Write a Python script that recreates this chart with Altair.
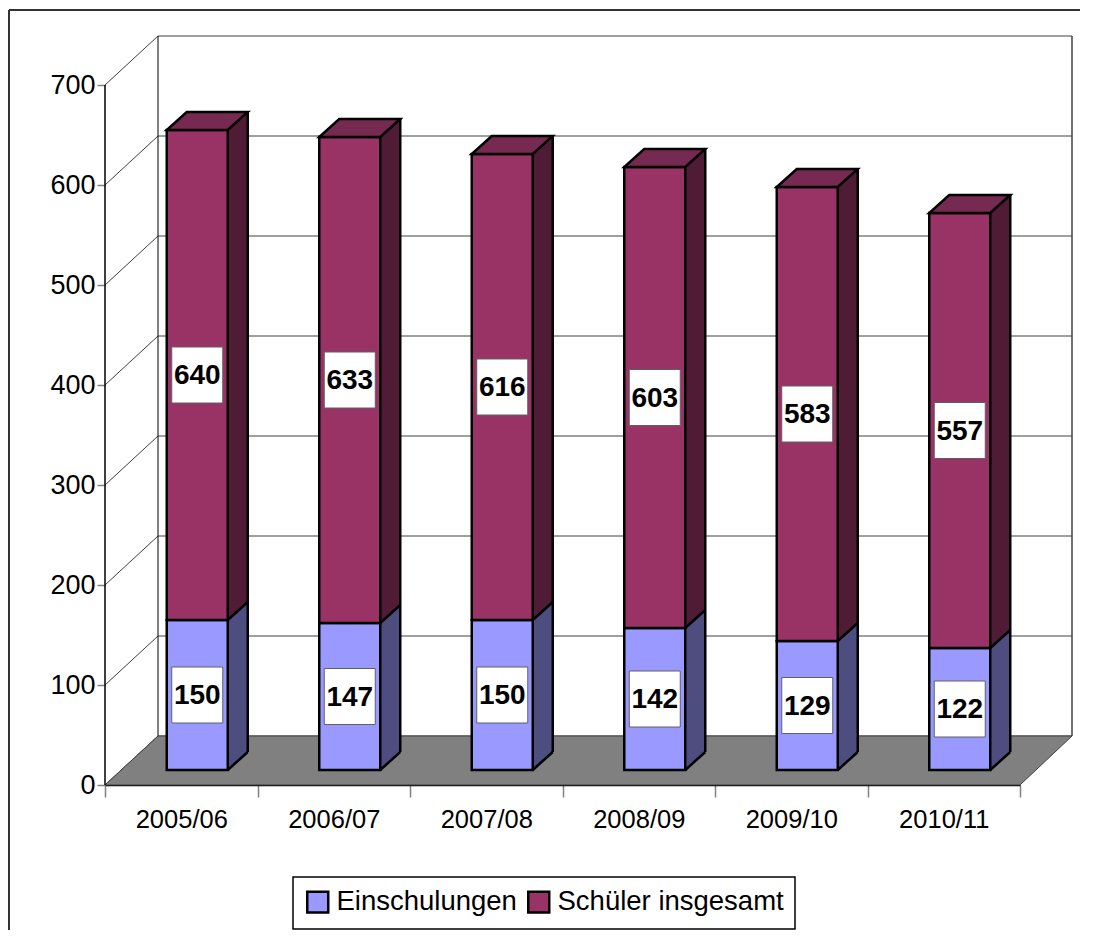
import altair as alt
import pandas as pd

# ---- data ----
years = ["2005/06", "2006/07", "2007/08", "2008/09", "2009/10", "2010/11"]
einschulungen = [150, 147, 150, 142, 129, 122]
schueler_insgesamt = [640, 633, 616, 603, 583, 557]
y_ticks = [0, 100, 200, 300, 400, 500, 600, 700]
series = ["Einschulungen", "Schüler insgesamt"]

df = pd.DataFrame({"year": years, "ein": einschulungen, "tot": schueler_insgesamt})
df["zero"] = 0
df["mid_ein"] = df["ein"] / 2
df["mid_tot"] = (df["ein"] + df["tot"]) / 2
ticks = pd.DataFrame({"v": y_ticks})
one = pd.DataFrame({"a": [0]})

FONT = "Liberation Sans, Arial"

# colours
BLUE = "#9999FF"
BLUE_SIDE = "#4D4D80"
PURPLE = "#993366"
PURPLE_SIDE = "#4F1B35"
PURPLE_TOP = "#762A52"
FLOOR = "#808080"

# 3-D look (pixel styling)
W, H = 915, 750
BAR_W = 61
FX, FY = 16, -15          # front face offset
SX, SY = 36, -33          # back face offset
WALL_X, WALL_Y, WALL_R = 53, -49, 967

FLOOR_PATH = "M -1 0.05067 L 0.89245 0.05067 L 1 -0.05067 L -0.89038 -0.05067 Z"
TRI_PATH = "M -1.05 -1.05 L 1 -1.05 L 1 -0.9 L -1.05 0.945 Z"
DIAG_PATH = "M -1 0.9 L 1 -0.9"
TOP_PATH = "M -1 0.2222 L 0.5062 0.2222 L 1 -0.2222 L -0.5062 -0.2222 Z"
BOX_PATH = "M -0.9107 -1 L 0.9107 -1 L 0.9107 1 L -0.9107 1 Z"

y_scale = alt.Scale(domain=[0, 750], nice=False, zero=True)
x_scale = alt.Scale(paddingInner=0, paddingOuter=0)
x_axis = alt.Axis(title=None, labelAngle=0, labelFont=FONT, labelFontSize=25.5, labelColor="black",
                  domainColor="black", domainWidth=1.5, tickColor="#808080", tickWidth=1.5,
                  tickSize=12, tickBand="extent", labelPadding=10)
y_axis = alt.Axis(title=None, values=y_ticks, labelFont=FONT, labelFontSize=27, labelColor="black",
                  domain=False, grid=False, tickColor="#808080", tickWidth=1.5, tickSize=8,
                  labelPadding=2)

X = alt.X("year:N", sort=years, scale=x_scale, axis=x_axis)


def Y(f):
    return alt.Y(f, type="quantitative", scale=y_scale, axis=y_axis)


def YD(v):
    return alt.YDatum(v, type="quantitative", scale=y_scale, axis=y_axis)


# ---- background: frame, wall, floor ----
grid = alt.Chart(ticks).mark_rule(color="#404040", strokeWidth=1, yOffset=WALL_Y).encode(
    x=alt.value(WALL_X), x2=alt.value(WALL_R), y=Y("v"))
side_diag = alt.Chart(ticks).mark_rule(color="#404040", strokeWidth=1, y2Offset=WALL_Y).encode(
    x=alt.value(0), x2=alt.value(WALL_X), y=Y("v"), y2=alt.Y2("v"))
frame_top = alt.Chart(one).mark_rule(color="#333333", strokeWidth=2).encode(
    x=alt.value(-96), x2=alt.value(1000), y=alt.value(-25))
frame_left = alt.Chart(one).mark_rule(color="#333333", strokeWidth=2).encode(
    x=alt.value(-96), y=alt.value(-25), y2=alt.value(H + 150))
wall_left = alt.Chart(one).mark_rule(color="black", strokeWidth=1, yOffset=WALL_Y, y2Offset=WALL_Y).encode(
    x=alt.value(WALL_X), y=YD(700), y2=alt.Y2Datum(0))
wall_right = alt.Chart(one).mark_rule(color="#404040", strokeWidth=1.5, yOffset=WALL_Y, y2Offset=WALL_Y).encode(
    x=alt.value(WALL_R), y=YD(700), y2=alt.Y2Datum(0))
front_axis = alt.Chart(one).mark_rule(color="black", strokeWidth=1.5).encode(
    x=alt.value(0), y=YD(700), y2=alt.Y2Datum(0))
floor = alt.Chart(one).mark_point(shape=FLOOR_PATH, size=(2 * 483.5) ** 2, filled=True, fill=FLOOR,
                                   stroke="#404040", strokeWidth=1, opacity=1).encode(
    x=alt.value(483.5), y=YD(24.5))

# ---- bars ----
base = alt.Chart(df)
blue_side = base.mark_bar(width=BAR_W, xOffset=SX, yOffset=SY, y2Offset=SY, color=BLUE_SIDE, strokeWidth=0).encode(
    x=X, y=Y("ein"), y2=alt.Y2("zero"))
purple_side = base.mark_bar(width=BAR_W, xOffset=SX, yOffset=SY, y2Offset=SY, color=PURPLE_SIDE, strokeWidth=0).encode(
    x=X, y=Y("tot"), y2=alt.Y2("ein"))
blue_patch = base.mark_point(shape=TRI_PATH, size=400, filled=True, fill=BLUE_SIDE, strokeWidth=0, opacity=1,
                             xOffset=56.5, yOffset=-24).encode(x=X, y=Y("zero"))
purple_patch = base.mark_point(shape=TRI_PATH, size=400, filled=True, fill=PURPLE_SIDE, strokeWidth=0, opacity=1,
                               xOffset=56.5, yOffset=-24).encode(x=X, y=Y("ein"))
diag0 = base.mark_point(shape=DIAG_PATH, size=400, filled=False, stroke="black", strokeWidth=2.5, opacity=1,
                        xOffset=56.5, yOffset=-24).encode(x=X, y=Y("zero"))
diag1 = base.mark_point(shape=DIAG_PATH, size=400, filled=False, stroke="black", strokeWidth=2.5, opacity=1,
                        xOffset=56.5, yOffset=-24).encode(x=X, y=Y("ein"))
right_edge = base.mark_rule(color="black", strokeWidth=2.5, xOffset=FX + BAR_W / 2 + 20, yOffset=SY, y2Offset=SY).encode(
    x=X, y=Y("tot"), y2=alt.Y2("zero"))

color_scale = alt.Scale(domain=series, range=[BLUE, PURPLE])
front_blue = base.transform_calculate(series='"Einschulungen"').mark_bar(
    width=BAR_W, xOffset=FX, yOffset=FY, y2Offset=FY, stroke="black", strokeWidth=2.5, opacity=1).encode(
    x=X, y=Y("ein"), y2=alt.Y2("zero"),
    color=alt.Color("series:N", scale=color_scale, legend=alt.Legend(title=None)))
front_purple = base.transform_calculate(series='"Schüler insgesamt"').mark_bar(
    width=BAR_W, xOffset=FX, yOffset=FY, y2Offset=FY, stroke="black", strokeWidth=2.5, opacity=1).encode(
    x=X, y=Y("tot"), y2=alt.Y2("ein"),
    color=alt.Color("series:N", scale=color_scale, legend=alt.Legend(title=None)))
top_face = base.mark_point(shape=TOP_PATH, size=81 ** 2, filled=True, fill=PURPLE_TOP, stroke="black",
                           strokeWidth=2.5, opacity=1, xOffset=FX + 10, yOffset=-24).encode(x=X, y=Y("tot"))

box_kw = dict(shape=BOX_PATH, size=56 ** 2, filled=True, fill="white", stroke="#606060", strokeWidth=1,
              opacity=1, xOffset=FX, yOffset=FY)
box_ein = base.mark_point(**box_kw).encode(x=X, y=Y("mid_ein"))
box_tot = base.mark_point(**box_kw).encode(x=X, y=Y("mid_tot"))
txt_kw = dict(font=FONT, fontWeight="bold", fontSize=28, color="black", align="center", baseline="middle",
              xOffset=FX, yOffset=FY + 1)
txt_ein = base.mark_text(**txt_kw).encode(x=X, y=Y("mid_ein"), text="ein:Q")
txt_tot = base.mark_text(**txt_kw).encode(x=X, y=Y("mid_tot"), text="tot:Q")

chart = alt.layer(
    grid, side_diag, frame_top, frame_left, wall_left, wall_right, floor, front_axis,
    blue_side, purple_side, blue_patch, purple_patch, diag0, diag1, right_edge,
    front_blue, front_purple, top_face, box_ein, box_tot, txt_ein, txt_tot,
).properties(
    width=W, height=H,
    padding={"left": 97, "top": 27, "right": 60, "bottom": 145},
    autosize=alt.AutoSizeParams(type="none"),
).configure_view(stroke="transparent").configure_legend(
    orient="none", legendX=188, legendY=842, direction="horizontal",
    strokeColor="black", strokeWidth=1.5, fillColor="white", padding=11, cornerRadius=0,
    symbolType="square", symbolSize=440, symbolStrokeColor="black", symbolStrokeWidth=2.5,
    symbolOpacity=1, labelFont=FONT, labelFontSize=27.5, labelColor="black", labelOffset=5,
    columnPadding=6, labelLimit=500,
)

chart.save("out.html", embed_options={"renderer": "svg", "actions": False})
